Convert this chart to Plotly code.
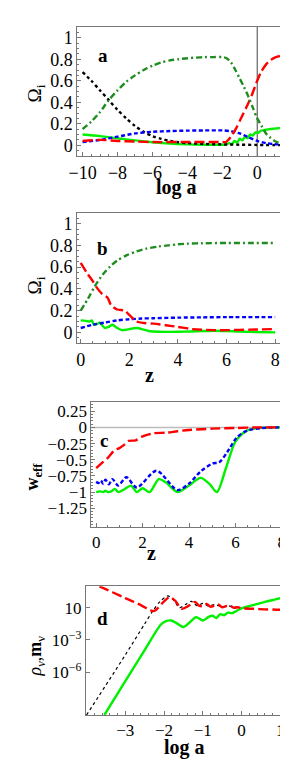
import numpy as np
import plotly.graph_objects as go

W, H = 288, 766

# ---------------- Panel a data (x = log a) ----------------
a_black_x = [-10, -9.5, -9, -8.5, -8, -7.5, -7, -6.5, -6, -5.5, -5, -4.5, -4, -3, -2, -1, 0, 0.5, 1, 1.3]
a_black_y = [0.68, 0.60, 0.51, 0.42, 0.33, 0.25, 0.18, 0.125, 0.085, 0.06, 0.04, 0.028, 0.02, 0.012, 0.008, 0.005, 0.003, 0.002, 0.001, 0.001]

a_cdm_x = [-10, -9.5, -9, -8.5, -8, -7.5, -7, -6.5, -6, -5.5, -5, -4.5, -4, -3.5, -3, -2.5, -2, -1.75, -1.5, -1.25, -1, -0.75, -0.5, -0.25, 0, 0.25, 0.5, 0.75, 1.0, 1.3]
a_cdm_y = [0.15, 0.22, 0.31, 0.42, 0.51, 0.59, 0.65, 0.70, 0.74, 0.77, 0.79, 0.80, 0.81, 0.815, 0.82, 0.82, 0.82, 0.81, 0.77, 0.70, 0.62, 0.54, 0.45, 0.35, 0.25, 0.18, 0.11, 0.07, 0.04, 0.02]

a_de_x = [-10, -9, -8, -7, -6, -4, -2, -1.8, -1.5, -1.2, -0.9, -0.6, -0.3, 0, 0.25, 0.5, 0.75, 1.0, 1.3]
a_de_y = [0.04, 0.05, 0.04, 0.035, 0.03, 0.03, 0.03, 0.03, 0.08, 0.16, 0.26, 0.36, 0.47, 0.60, 0.69, 0.75, 0.79, 0.815, 0.83]

a_bar_x = [-10, -9, -8, -7, -6, -5, -4, -3, -2, -1.5, -1, -0.5, 0, 0.5, 1.0, 1.3]
a_bar_y = [0.03, 0.05, 0.08, 0.11, 0.125, 0.132, 0.136, 0.138, 0.138, 0.13, 0.11, 0.075, 0.04, 0.02, 0.01, 0.008]

a_nu_x = [-10, -9, -8, -7, -6, -5, -4, -3, -2, -1.8, -1.6, -1.45, -1.3, -1.15, -1.0, -0.85, -0.7, -0.55, -0.4, -0.25, -0.1, 0.05, 0.2, 0.4, 0.7, 1.0, 1.3]
a_nu_y = [0.10, 0.085, 0.065, 0.045, 0.028, 0.015, 0.008, 0.005, 0.005, 0.008, 0.02, 0.01, 0.04, 0.025, 0.06, 0.045, 0.08, 0.065, 0.10, 0.09, 0.12, 0.115, 0.135, 0.14, 0.15, 0.155, 0.16]

# ---------------- Panel b data (x = z) ----------------
b_cdm_x = [0, 0.3, 0.57, 0.9, 1.23, 1.5, 1.9, 2.3, 2.7, 3.2, 3.6, 4.0, 4.4, 5.0, 6.0, 7.0, 8.0]
b_cdm_y = [0.20, 0.31, 0.42, 0.53, 0.61, 0.66, 0.71, 0.745, 0.77, 0.79, 0.80, 0.81, 0.816, 0.82, 0.822, 0.822, 0.822]

b_de_x = [0, 0.25, 0.5, 0.7, 0.9, 1.1, 1.25, 1.5, 1.8, 2.0, 2.3, 2.6, 3.0, 3.5, 4.0, 4.6, 5.5, 6.0, 7.0, 8.0]
b_de_y = [0.64, 0.55, 0.47, 0.40, 0.35, 0.32, 0.25, 0.21, 0.20, 0.16, 0.10, 0.086, 0.08, 0.065, 0.05, 0.03, 0.02, 0.02, 0.025, 0.03]

b_bar_x = [0, 0.5, 1.0, 1.5, 2.0, 2.5, 3.0, 4.0, 5.0, 6.0, 8.0]
b_bar_y = [0.04, 0.07, 0.09, 0.11, 0.12, 0.127, 0.13, 0.135, 0.138, 0.14, 0.14]

b_nu_x = [0, 0.2, 0.35, 0.45, 0.55, 0.7, 0.8, 0.9, 1.0, 1.15, 1.3, 1.5, 1.7, 1.9, 2.0, 2.3, 2.6, 2.8, 3.2, 3.5, 4.0, 4.5, 5.0, 5.5, 6.0, 6.5, 7.0, 8.0]
b_nu_y = [0.11, 0.105, 0.10, 0.11, 0.07, 0.08, 0.09, 0.06, 0.04, 0.05, 0.07, 0.04, 0.02, 0.025, 0.03, 0.04, 0.025, 0.012, 0.005, 0.004, 0.005, 0.008, 0.012, 0.015, 0.012, 0.008, 0.004, 0.0]

# ---------------- Panel c data (x = z) ----------------
c_de_x = [0, 0.25, 0.5, 0.8, 1.0, 1.2, 1.4, 1.7, 2.0, 2.5, 3.0, 3.5, 4.0, 5.0, 6.0, 7.0, 8.0]
c_de_y = [-0.63, -0.55, -0.47, -0.35, -0.32, -0.27, -0.21, -0.20, -0.14, -0.09, -0.083, -0.06, -0.04, -0.02, -0.01, 0.0, 0.0]

c_bar_x = [0, 0.1, 0.2, 0.3, 0.4, 0.55, 0.7, 0.95, 1.3, 1.75, 2.6, 3.5, 4.0, 4.5, 5.0, 5.3, 5.65, 6.05, 6.5, 7.15, 8.0]
c_bar_y = [-0.84, -0.86, -0.82, -0.87, -0.81, -0.88, -0.80, -0.90, -0.77, -0.93, -0.67, -0.97, -0.87, -0.68, -0.56, -0.54, -0.38, -0.16, -0.05, -0.01, 0.0]

c_nu_x = [0, 0.2, 0.3, 0.4, 0.5, 0.65, 0.8, 0.95, 1.2, 1.5, 1.75, 2.0, 2.3, 2.7, 3.0, 3.5, 4.0, 4.5, 4.9, 5.2, 5.6, 6.0, 6.5, 7.0, 8.0]
c_nu_y = [-1.0, -0.99, -1.0, -0.98, -1.0, -0.99, -0.95, -1.0, -0.96, -0.90, -1.0, -0.94, -1.0, -0.80, -0.85, -1.0, -0.90, -0.78, -0.88, -1.0, -0.62, -0.22, -0.05, -0.01, 0.0]

# ---------------- Panel d data (x = log a, y = log10 value) ----------------
d_rho_x = [-4.0, -3.67, -3.0, -2.6, -2.35, -2.25, -2.15, -2.0, -1.85, -1.7, -1.55, -1.4, -1.3, -1.2, -1.1, -1.0, -0.9, -0.8, -0.7, -0.6, -0.5, -0.4, -0.3, -0.2, -0.1, 0.0, 0.3, 0.6, 0.9, 1.23]
d_rho_y = [2.5, 2.0, 0.9, 0.25, -0.25, -0.3, 0.0, 0.6, 1.0, 0.6, -0.1, 0.1, 0.35, 0.55, 0.2, 0.15, 0.35, 0.1, 0.2, 0.3, 0.05, 0.15, 0.2, 0.0, 0.05, -0.05, -0.1, -0.15, -0.18, -0.22]

d_ref_x = [-4.0, -3.0, -2.5, -2.29, -2.1, -1.9, -1.75, -1.6, -1.45, -1.3, -1.15, -1.0, -0.85, -0.7, -0.5, -0.3, -0.1, 0.2]
d_ref_y = [-10.0, -4.4, -1.5, -0.3, 0.6, 1.1, 0.7, 0.0, 0.3, 0.6, 0.2, 0.4, 0.15, 0.3, 0.1, 0.15, 0.0, -0.05]

d_m_x = [-3.54, -3.0, -2.5, -2.08, -1.95, -1.81, -1.65, -1.5, -1.35, -1.17, -1.0, -0.85, -0.75, -0.65, -0.55, -0.45, -0.35, -0.25, -0.13, 0.0, 0.3, 0.6, 0.9, 1.23]
d_m_y = [-10.0, -6.85, -3.95, -1.56, -1.25, -1.19, -1.5, -1.8, -1.4, -0.87, -1.19, -0.85, -0.75, -0.95, -0.6, -0.7, -0.45, -0.5, -0.3, -0.06, 0.25, 0.55, 0.8, 1.09]

# ---------------- styling ----------------
RED = "#FF0000"
DGREEN = "#1E8C1E"
BLUE = "#0000FF"
LGREEN = "#00F000"
FONT = "Liberation Serif"
LW = 2.4

fig = go.Figure()


def px_x(p):
    return p / W


def px_y(p):
    return 1 - p / H


def add(x, y, color, dash, axis, width=LW, smooth=True):
    fig.add_trace(go.Scatter(x=x, y=y, mode="lines", xaxis="x" + axis, yaxis="y" + axis,
                             line=dict(color=color, dash=dash, width=width,
                                       shape="spline" if smooth else "linear", smoothing=0.8),
                             showlegend=False, hoverinfo="skip"))


LONG = "10px,4px"
SHORT = "4px,2.5px"
DASHDOT = "6px,3px,2px,3px"

# panel a (axis "")
add(a_nu_x, a_nu_y, LGREEN, "solid", "")
add(a_black_x, a_black_y, "black", "dot", "")
add(a_bar_x, a_bar_y, BLUE, SHORT, "")
add(a_de_x, a_de_y, RED, LONG, "")
add(a_cdm_x, a_cdm_y, DGREEN, DASHDOT, "")

# panel b (axis "2")
add(b_nu_x, b_nu_y, LGREEN, "solid", "2")
add(b_bar_x, b_bar_y, BLUE, SHORT, "2")
add(b_de_x, b_de_y, RED, LONG, "2")
add(b_cdm_x, b_cdm_y, DGREEN, DASHDOT, "2")

# panel c (axis "3")
add(c_nu_x, c_nu_y, LGREEN, "solid", "3")
add(c_bar_x, c_bar_y, BLUE, SHORT, "3")
add(c_de_x, c_de_y, RED, LONG, "3")

# panel d (axis "4")
add(d_ref_x, list(10 ** np.array(d_ref_y)), "black", "dot", "4", width=1.2)
add(d_m_x, list(10 ** np.array(d_m_y)), LGREEN, "solid", "4")
add(d_rho_x, list(10 ** np.array(d_rho_y)), RED, LONG, "4")

FRAME = "#777777"
TICKSIZE = 18
tickfont = dict(family=FONT, size=TICKSIZE, color="black")


def axstyle(**kw):
    d = dict(showline=True, linecolor=FRAME, linewidth=1, mirror=True,
             ticks="inside", ticklen=4, tickcolor=FRAME, tickwidth=1,
             showgrid=False, zeroline=False, tickfont=tickfont, ticklabelstandoff=0)
    d.update(kw)
    return d


def mnr(dt):
    return dict(ticks="inside", ticklen=2, tickcolor=FRAME, dtick=dt, tick0=0, showgrid=False)


MINUS = "\u2212"

# domains (from pixel measurements)
xa = [px_x(62.3), px_x(275)]
ya = [px_y(148), px_y(19)]
xb = [px_x(62), px_x(274)]
yb = [px_y(335.2), px_y(204.8)]
xc = [px_x(76.7), px_x(277.7)]
yc = [px_y(519), px_y(393.5)]
xd = [px_x(71), px_x(281)]
yd = [px_y(707), px_y(578.3)]

xa_ticks = [-10, -8, -6, -4, -2, 0]
ya_ticks = [0, 0.2, 0.4, 0.6, 0.8, 1]
ya_text = ["0", "0.2", "0.4", "0.6", "0.8", "1"]
z_ticks = [0, 2, 4, 6, 8]
yc_ticks = [0.25, 0, -0.25, -0.5, -0.75, -1, -1.25]
xd_ticks = [-3, -2, -1, 0, 1]
yd_ticks = [1, 1e-3, 1e-6]
yd_text = ["10", "10<sup>" + MINUS + "3</sup>", "10<sup>" + MINUS + "6</sup>"]


def mtxt(v):
    s = ("%g" % v)
    return s.replace("-", MINUS)


fig.update_layout(
    width=W, height=H, margin=dict(l=0, r=0, t=0, b=0),
    paper_bgcolor="white", plot_bgcolor="white",
    xaxis=axstyle(domain=xa, range=[-10.3, 1.5], tickvals=xa_ticks,
                  ticktext=[mtxt(v) for v in xa_ticks], anchor="y", minor=mnr(0.5)),
    yaxis=axstyle(domain=ya, range=[-0.1, 1.1], tickvals=ya_ticks, ticktext=ya_text, anchor="x",
                  minor=mnr(0.05)),
    xaxis2=axstyle(domain=xb, range=[-0.15, 8.3], tickvals=z_ticks,
                   ticktext=[mtxt(v) for v in z_ticks], anchor="y2", minor=mnr(0.5)),
    yaxis2=axstyle(domain=yb, range=[-0.1, 1.1], tickvals=ya_ticks, ticktext=ya_text, anchor="x2",
                   minor=mnr(0.05)),
    xaxis3=axstyle(domain=xc, range=[-0.21, 8.18], tickvals=z_ticks,
                   ticktext=[mtxt(v) for v in z_ticks], anchor="y3", minor=mnr(0.5),
                   tickfont=dict(family=FONT, size=17, color="black")),
    yaxis3=axstyle(domain=yc, range=[-1.54, 0.40], tickvals=yc_ticks,
                   ticktext=[mtxt(v) for v in yc_ticks], anchor="x3", minor=mnr(0.05),
                   tickfont=dict(family=FONT, size=17, color="black")),
    xaxis4=axstyle(domain=xd, range=[-4.02, 1.23], tickvals=xd_ticks,
                   ticktext=[mtxt(v) for v in xd_ticks], anchor="y4", minor=mnr(0.2),
                   tickfont=dict(family=FONT, size=17, color="black")),
    yaxis4=axstyle(domain=yd, type="log", range=[-10, 2], tickvals=yd_ticks, ticktext=yd_text,
                   anchor="x4", tickfont=dict(family=FONT, size=17, color="black")),
)

# reference lines
fig.add_shape(type="line", xref="x", yref="y domain", x0=0, x1=0, y0=0, y1=1,
              line=dict(color="#444444", width=1), layer="below")
fig.add_shape(type="line", xref="x3 domain", yref="y3", x0=0, x1=1, y0=0, y1=0,
              line=dict(color="#BBBBBB", width=1.5), layer="below")


def ann(text, x, y, size=18, angle=0, bold=False):
    if bold:
        text = "<b>" + text + "</b>"
    fig.add_annotation(text=text, x=px_x(x), y=px_y(y), xref="paper", yref="paper",
                       showarrow=False, textangle=angle,
                       font=dict(family=FONT, size=size, color="black"),
                       xanchor="center", yanchor="middle")


# panel letters
ann("a", 89, 48, size=19, bold=True)
ann("b", 88, 240, size=19, bold=True)
ann("c", 90, 432, size=19, bold=True)
ann("d", 88, 610, size=19, bold=True)

# axis titles
ann("log a", 165, 179, size=20, bold=True)
ann("z", 137, 367, size=20, bold=True)
ann("z", 139, 545, size=20, bold=True)
ann("log a", 173, 739, size=20, bold=True)

ann("\u03a9<sub>i</sub>", 20, 85, size=19, angle=-90)
ann("\u03a9<sub>i</sub>", 20, 277, size=19, angle=-90)
ann("<b>w<sub>eff</sub></b>", 17, 468, size=18, angle=-90)
ann("<i>\u03c1<sub>\u03bd</sub></i>,<b>m</b><sub>\u03bd</sub>", 20, 648, size=18, angle=-90)

fig.write_html("out.html")
